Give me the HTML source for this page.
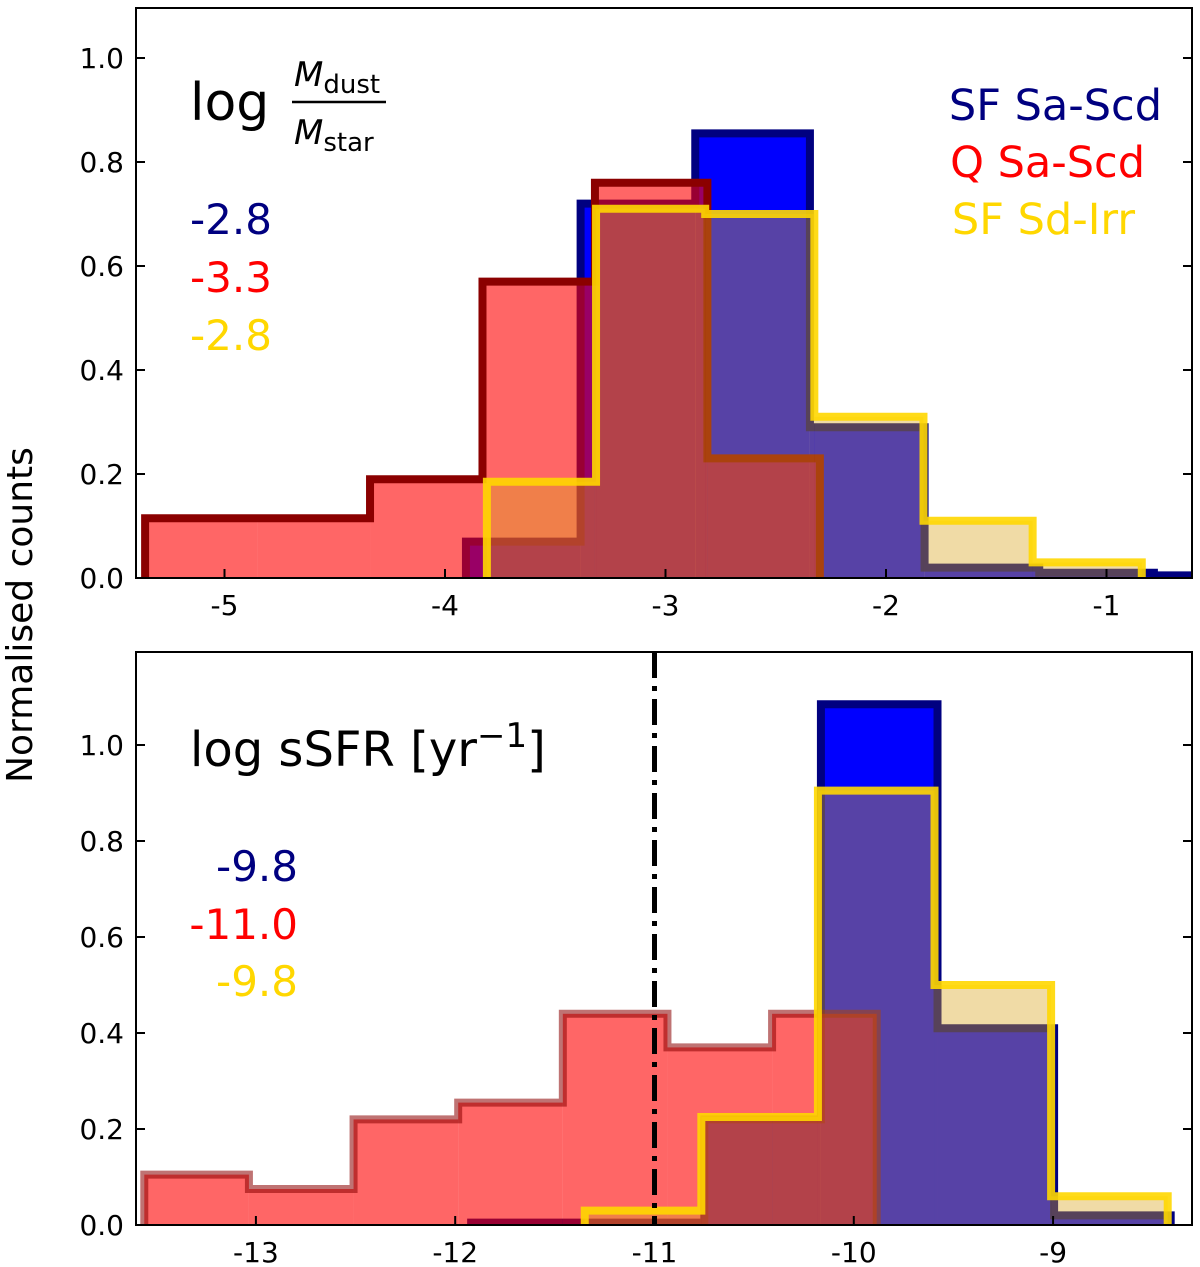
<!DOCTYPE html>
<html><head><meta charset="utf-8"><style>
body{margin:0;background:#fff}
svg{display:block;font-family:"DejaVu Sans","Liberation Sans",sans-serif}
</style></head><body>
<svg id="c" width="1200" height="1267" viewBox="0 0 1200 1267" xmlns="http://www.w3.org/2000/svg">
<defs>
<clipPath id="clipTop"><rect x="136" y="8" width="1056" height="570"/></clipPath>
<clipPath id="clipBot"><rect x="136" y="652" width="1056" height="573"/></clipPath>
</defs>
<g id="gtop" clip-path="url(#clipTop)"></g>
<g id="gbot" clip-path="url(#clipBot)"></g>
<g id="axes"></g>
<text x="32" y="615" font-size="36" text-anchor="middle" transform="rotate(-90 32 615)">Normalised counts</text>
<g>
<text x="190" y="120" font-size="52">log</text>
<text x="294" y="86" font-size="34" font-style="italic">M<tspan font-size="26" font-style="normal" dy="7">dust</tspan></text>
<line x1="292" y1="102" x2="386" y2="102" stroke="#000" stroke-width="2.5"/>
<text x="294" y="144" font-size="34" font-style="italic">M<tspan font-size="26" font-style="normal" dy="7">star</tspan></text>
</g>
<text x="190" y="234" font-size="42" fill="#000080">-2.8</text>
<text x="190" y="292" font-size="42" fill="#ff0000">-3.3</text>
<text x="190" y="350" font-size="42" fill="#ffd700">-2.8</text>
<g>
<text x="1162" y="120" font-size="43" fill="#000080" text-anchor="end">SF Sa-Scd</text>
<text x="1145" y="177" font-size="43" fill="#ff0000" text-anchor="end">Q Sa-Scd</text>
<text x="1135" y="234" font-size="43" fill="#ffd700" text-anchor="end">SF Sd-Irr</text>
</g>
<text x="190" y="766" font-size="48">log sSFR [yr<tspan font-size="34" dy="-19">−1</tspan><tspan dy="19">]</tspan></text>
<text x="298" y="881" font-size="42" fill="#000080" text-anchor="end">-9.8</text>
<text x="298" y="939" font-size="42" fill="#ff0000" text-anchor="end">-11.0</text>
<text x="298" y="996" font-size="42" fill="#ffd700" text-anchor="end">-9.8</text>
</svg>
<script>
// ---- top panel data (log Mdust/Mstar) ----
const topBlueStart = -3.905, topBlueWidth = 0.52;
const topBlueVals = [0.07, 0.72, 0.855, 0.29, 0.02, 0.01, 0.005];
const topRedStart = -5.36, topRedWidth = 0.51;
const topRedVals = [0.115, 0.115, 0.19, 0.57, 0.76, 0.23];
const topYelStart = -3.81, topYelWidth = 0.495;
const topYelVals = [0.185, 0.71, 0.70, 0.31, 0.11, 0.03];
const topXTicks = [-5, -4, -3, -2, -1];
const topYTicks = [0.0, 0.2, 0.4, 0.6, 0.8, 1.0];
// ---- bottom panel data (log sSFR) ----
const botBlueStart = -11.92, botBlueWidth = 0.585;
const botBlueVals = [0.005, 0.005, 0.22, 1.085, 0.41, 0.02];
const botRedStart = -13.56, botRedWidth = 0.525;
const botRedVals = [0.105, 0.075, 0.22, 0.255, 0.44, 0.37, 0.44];
const botYelStart = -11.35, botYelWidth = 0.585;
const botYelVals = [0.03, 0.225, 0.905, 0.5, 0.06];
const botXTicks = [-13, -12, -11, -10, -9];
const botYTicks = [0.0, 0.2, 0.4, 0.6, 0.8, 1.0];
const sSFRCut = -11;

const NS = "http://www.w3.org/2000/svg";
function mk(tag, attrs, parent){const e=document.createElementNS(NS,tag);for(const k in attrs)e.setAttribute(k,attrs[k]);parent.appendChild(e);return e;}

const pTop = {L:136,R:1192,T:8,B:578, x:v=>224.5+(v+5)*220.5, y:v=>578-v*520};
const pBot = {L:136,R:1192,T:652,B:1225, x:v=>654.5+(v+11)*199.3, y:v=>1225-v*480};

function hist(g, P, start, w, vals, fill, fop, edge, eop, ew, name){
  const grp = mk('g',{},g);
  
  
  vals.forEach((v,i)=>{
    const x0=P.x(start+i*w), x1=P.x(start+(i+1)*w);
    const r = mk('rect',{x:x0,y:P.y(v),width:x1-x0,height:P.y(0)-P.y(v),fill:fill,'fill-opacity':fop},grp);
    
    
  });
  let d='M'+P.x(start)+','+P.y(0);
  vals.forEach((v,i)=>{d+=' L'+P.x(start+i*w)+','+P.y(v)+' L'+P.x(start+(i+1)*w)+','+P.y(v);});
  d+=' L'+P.x(start+vals.length*w)+','+P.y(0);
  const p = mk('path',{d:d,fill:'none',stroke:edge,'stroke-opacity':eop,'stroke-width':ew,'stroke-linejoin':'miter'},grp);
  
  
}
const gt=document.getElementById('gtop'), gb=document.getElementById('gbot');
hist(gt, pTop, topBlueStart, topBlueWidth, topBlueVals, '#0000ff',1,'#000080',1,8,'sf-sascd-hist-top');
hist(gt, pTop, topRedStart, topRedWidth, topRedVals, '#ff0000',0.6,'#8b0000',1,8,'q-sascd-hist-top');
hist(gt, pTop, topYelStart, topYelWidth, topYelVals, '#daa520',0.4,'#ffd700',0.9,8,'sf-sdirr-hist-top');
hist(gb, pBot, botBlueStart, botBlueWidth, botBlueVals, '#0000ff',1,'#000080',1,8,'sf-sascd-hist-bottom');
hist(gb, pBot, botRedStart, botRedWidth, botRedVals, '#ff0000',0.6,'#8b0000',0.55,8,'q-sascd-hist-bottom');
hist(gb, pBot, botYelStart, botYelWidth, botYelVals, '#daa520',0.4,'#ffd700',0.9,8,'sf-sdirr-hist-bottom');
const cut = mk('line',{x1:pBot.x(sSFRCut),x2:pBot.x(sSFRCut),y1:pBot.T,y2:pBot.B,stroke:'#000','stroke-width':5,'stroke-dasharray':'26 8 5 8'},gb);



const ax=document.getElementById('axes');
function axes(P, xt, yt, name){
  const f = mk('rect',{x:P.L,y:P.T,width:P.R-P.L,height:P.B-P.T,fill:'none',stroke:'#000','stroke-width':2},ax);
  
  
  xt.forEach(v=>{
    const x=P.x(v);
    mk('line',{x1:x,x2:x,y1:P.B,y2:P.B-9,stroke:'#000','stroke-width':2},ax);
    const t = mk('text',{x:x,y:P.B+37,'font-size':28,'text-anchor':'middle'},ax);
    t.textContent=String(v);
    
    
  });
  yt.forEach(v=>{
    const y=P.y(v);
    mk('line',{x1:P.L,x2:P.L+9,y1:y,y2:y,stroke:'#000','stroke-width':2},ax);
    mk('line',{x1:P.R,x2:P.R-9,y1:y,y2:y,stroke:'#000','stroke-width':2},ax);
    const t = mk('text',{x:P.L-12,y:y+10,'font-size':28,'text-anchor':'end'},ax);
    t.textContent=v.toFixed(1);
    
    
  });
}
axes(pTop, topXTicks, topYTicks, 'top-panel');
axes(pBot, botXTicks, botYTicks, 'bottom-panel');
</script>
</body></html>
